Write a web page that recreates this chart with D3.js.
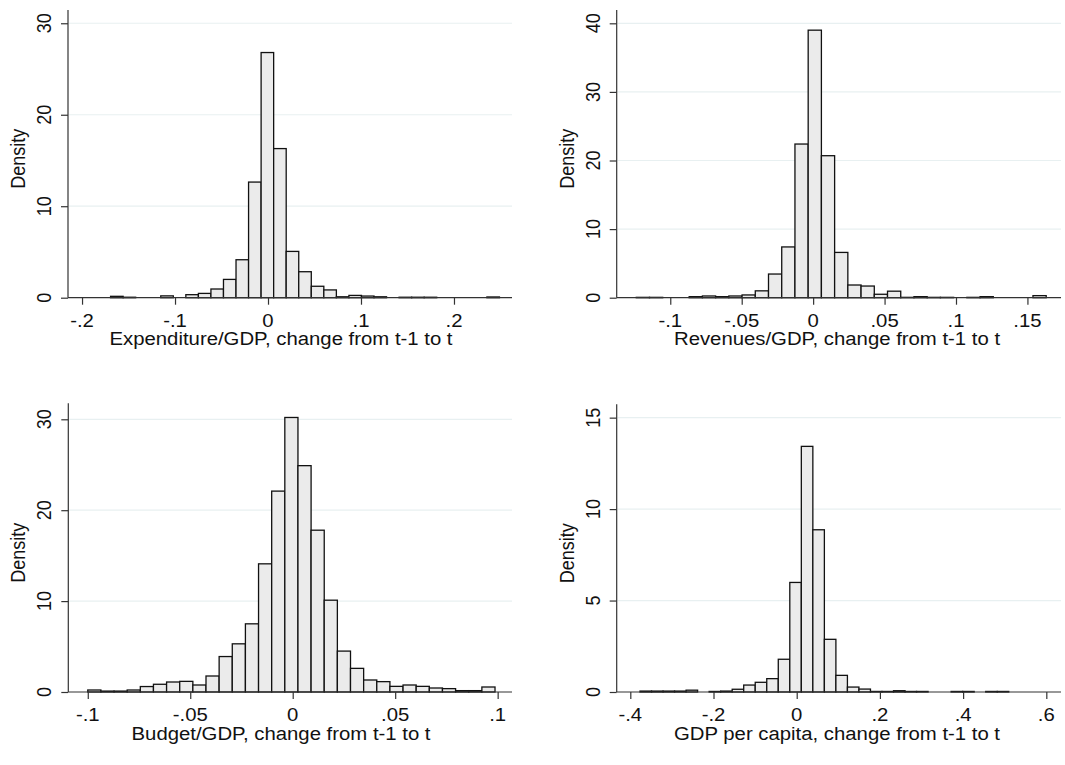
<!DOCTYPE html>
<html>
<head>
<meta charset="utf-8">
<script src="https://cdn.jsdelivr.net/npm/d3@7"></script>
<style>
  body { margin: 0; background: #fff; }
  svg text { font-family: "Liberation Sans", Arial, Helvetica, sans-serif; fill: #111; }
</style>
</head>
<body>
<div id="chart"></div>
<script>
// histogram bins: first bin edge, bin width, density per bin
var expStart = -0.1693, expWidth = 0.01349;
var expDensity = [0.15, 0.05, 0, 0, 0.2, 0, 0.33, 0.47, 0.95, 2.0, 4.15, 12.64, 26.8, 16.3, 5.06, 2.84,
                  1.25, 0.85, 0.1, 0.25, 0.18, 0.1, 0, 0.05, 0.05, 0.05, 0, 0, 0, 0, 0.08];
var expTicksX = [-0.2, -0.1, 0, 0.1, 0.2];
var expTicksY = [0, 10, 20, 30];

var revStart = -0.1238, revWidth = 0.009256;
var revDensity = [0.05, 0.05, 0, 0, 0.15, 0.25, 0.15, 0.25, 0.4, 1.0, 3.45, 7.4, 22.4, 39.0, 20.7, 6.6,
                  1.85, 1.7, 0.5, 0.95, 0.05, 0.15, 0.05, 0.05, 0, 0.05, 0.15, 0, 0, 0, 0.3];
var revTicksX = [-0.1, -0.05, 0, 0.05, 0.1, 0.15];
var revTicksY = [0, 10, 20, 30, 40];

var budStart = -0.1, budWidth = 0.00641;
var budDensity = [0.22, 0.1, 0.1, 0.22, 0.6, 0.85, 1.1, 1.17, 0.77, 1.76, 3.9, 5.3, 7.5, 14.1, 22.1, 30.2,
                  24.9, 17.8, 10.1, 4.5, 2.6, 1.32, 1.14, 0.62, 0.77, 0.62, 0.44, 0.37, 0.15, 0.15, 0.55];
var budTicksX = [-0.1, -0.05, 0, 0.05, 0.1];
var budTicksY = [0, 10, 20, 30];

var gdpStart = -0.3767, gdpWidth = 0.0277;
var gdpDensity = [0.05, 0.05, 0.05, 0.05, 0.1, 0, 0.03, 0.05, 0.15, 0.38, 0.53, 0.73, 1.79, 5.99, 13.43, 8.87,
                  2.88, 0.91, 0.27, 0.16, 0.03, 0.03, 0.07, 0.03, 0.03, 0, 0, 0.03, 0.03, 0, 0.03, 0.03];
var gdpTicksX = [-0.4, -0.2, 0, 0.2, 0.4, 0.6];
var gdpTicksY = [0, 5, 10, 15];

var W = 1065, H = 765;
var sx = 1.13;      // picture is a bit wider than tall, text is stretched
var fontSize = 18;

var svg = d3.select("#chart").append("svg")
    .attr("width", W)
    .attr("height", H);

function stataFmt(d) {
    if (d === 0) return "0";
    return String(+d.toFixed(3)).replace("0.", ".");
}

function bins(start, width, dens) {
    return dens.map(function(v, i) {
        return { x0: start + i * width, x1: start + (i + 1) * width, v: v };
    });
}

function panel(p) {
    var x = d3.scaleLinear().domain(p.xDomain).range([p.left, p.right]);
    var y = d3.scaleLinear().domain(p.yDomain).range([p.bottom, p.top]);
    var g = svg.append("g");

    // grid lines
    g.selectAll(".grid")
        .data(p.ticksY.filter(function(d) { return d > 0; }))
        .enter().append("line")
        .attr("x1", p.left + 1)
        .attr("x2", p.right)
        .attr("y1", function(d) { return y(d); })
        .attr("y2", function(d) { return y(d); })
        .attr("stroke", "#e8f0f1")
        .attr("stroke-width", 1.2);

    // bars
    g.selectAll(".bar")
        .data(p.bins.filter(function(d) { return d.v > 0; }))
        .enter().append("rect")
        .attr("x", function(d) { return x(d.x0); })
        .attr("y", function(d) { return y(d.v); })
        .attr("width", function(d) { return x(d.x1) - x(d.x0); })
        .attr("height", function(d) { return y(0) - y(d.v); })
        .attr("fill", "#ebebeb")
        .attr("stroke", "#111")
        .attr("stroke-width", 1.3);

    // axes
    var xAxis = g.append("g")
        .attr("transform", "translate(0," + p.bottom + ")")
        .call(d3.axisBottom(x).tickValues(p.ticksX).tickSize(7).tickFormat(""));
    var yAxis = g.append("g")
        .attr("transform", "translate(" + p.left + ",0)")
        .call(d3.axisLeft(y).tickValues(p.ticksY).tickSize(7).tickFormat(""));
    [xAxis, yAxis].forEach(function(a) {
        a.select(".domain").attr("stroke", "#333").attr("stroke-width", 1.2);
        a.selectAll(".tick line").attr("stroke", "#333").attr("stroke-width", 1.2);
    });
    // no end caps on the axis lines
    xAxis.select(".domain").attr("d", "M" + p.left + ",0H" + p.right);
    yAxis.select(".domain").attr("d", "M0," + p.top + "V" + p.bottom);

    // x tick labels
    g.selectAll(".xlab")
        .data(p.ticksX)
        .enter().append("text")
        .attr("transform", function(d) { return "translate(" + x(d) + "," + (p.bottom + 29) + ") scale(" + sx + ",1)"; })
        .attr("text-anchor", "middle")
        .style("font-size", fontSize + "px")
        .text(stataFmt);

    // y tick labels, rotated
    g.selectAll(".ylab")
        .data(p.ticksY)
        .enter().append("text")
        .attr("transform", function(d) { return "translate(" + (p.left - 17) + "," + y(d) + ") scale(" + sx + ",1) rotate(-90)"; })
        .attr("text-anchor", "middle")
        .style("font-size", fontSize + "px")
        .text(stataFmt);

    // axis titles
    g.append("text")
        .attr("transform", "translate(" + p.titleX + "," + (p.bottom + 47.5) + ") scale(" + sx + ",1)")
        .attr("text-anchor", "middle")
        .style("font-size", fontSize + "px")
        .text(p.xTitle);

    g.append("text")
        .attr("transform", "translate(" + (p.left - 43) + "," + ((p.top + p.bottom) / 2 + 5) + ") scale(" + sx + ",1) rotate(-90)")
        .attr("text-anchor", "middle")
        .style("font-size", fontSize + "px")
        .text("Density");
}

panel({
    left: 68, right: 512, top: 10, bottom: 297.7, titleX: 281,
    xDomain: [-0.2151, 0.2624], yDomain: [0, 31.45],
    bins: bins(expStart, expWidth, expDensity),
    ticksX: expTicksX, ticksY: expTicksY,
    xTitle: "Expenditure/GDP, change from t-1 to t"
});
panel({
    left: 616.7, right: 1061, top: 10, bottom: 297.7, titleX: 837,
    xDomain: [-0.1375, 0.1735], yDomain: [0, 41.94],
    bins: bins(revStart, revWidth, revDensity),
    ticksX: revTicksX, ticksY: revTicksY,
    xTitle: "Revenues/GDP, change from t-1 to t"
});
panel({
    left: 68.3, right: 512, top: 403.3, bottom: 692, titleX: 281,
    xDomain: [-0.1095, 0.107], yDomain: [0, 31.76],
    bins: bins(budStart, budWidth, budDensity),
    ticksX: budTicksX, ticksY: budTicksY,
    xTitle: "Budget/GDP, change from t-1 to t"
});
panel({
    left: 616.7, right: 1061, top: 404.3, bottom: 692, titleX: 837,
    xDomain: [-0.4327, 0.6353], yDomain: [0, 15.73],
    bins: bins(gdpStart, gdpWidth, gdpDensity),
    ticksX: gdpTicksX, ticksY: gdpTicksY,
    xTitle: "GDP per capita, change from t-1 to t"
});
</script>
</body>
</html>
